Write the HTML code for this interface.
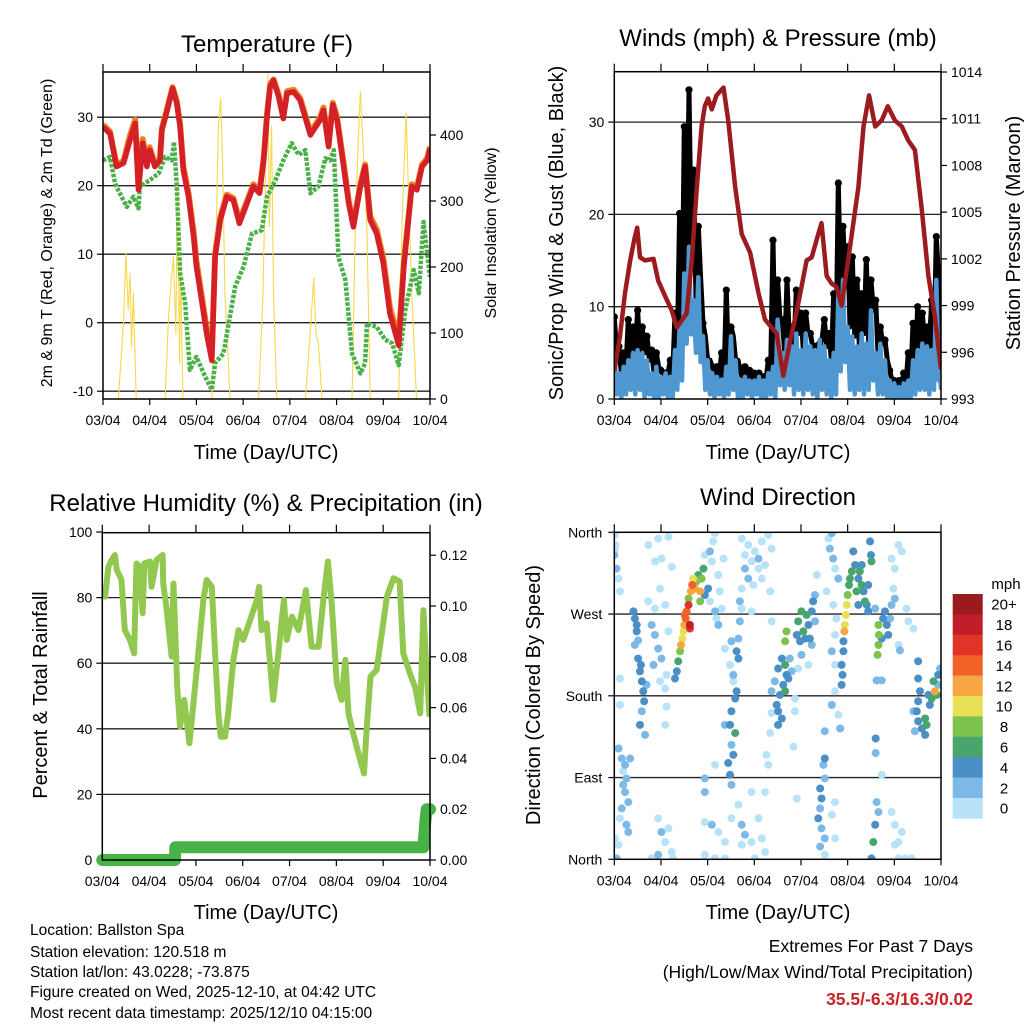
<!DOCTYPE html>
<html><head><meta charset="utf-8"><title>Station Meteogram</title>
<style>
html,body{margin:0;padding:0;background:#fff;}
svg{display:block;font-family:"Liberation Sans",Arial,sans-serif;}
</style></head>
<body>
<svg id="fig" width="1024" height="1024" viewBox="0 0 1024 1024" xmlns="http://www.w3.org/2000/svg">
<defs>
<clipPath id="c1"><rect x="103" y="72" width="327" height="327"/></clipPath>
<clipPath id="c2"><rect x="614.3" y="71.7" width="326.7" height="327.3"/></clipPath>
<clipPath id="c3"><rect x="102.3" y="532.7" width="327.7" height="327.3"/></clipPath>
<clipPath id="c4"><rect x="614.3" y="532.3" width="326.7" height="327"/></clipPath>
</defs>
<g id="axes"></g>
<g id="marks"></g>
<g id="frames"></g>

<text x="267" y="52" font-size="24" text-anchor="middle">Temperature (F)</text>
<text x="778" y="46" font-size="24" text-anchor="middle">Winds (mph) &amp; Pressure (mb)</text>
<text x="266" y="511" font-size="24" text-anchor="middle">Relative Humidity (%) &amp; Precipitation (in)</text>
<text x="778" y="505" font-size="24" text-anchor="middle">Wind Direction</text>

<text x="266" y="459" font-size="20" text-anchor="middle">Time (Day/UTC)</text>
<text x="778" y="459" font-size="20" text-anchor="middle">Time (Day/UTC)</text>
<text x="266" y="919" font-size="20" text-anchor="middle">Time (Day/UTC)</text>
<text x="778" y="919" font-size="20" text-anchor="middle">Time (Day/UTC)</text>

<text transform="translate(52,233) rotate(-90)" font-size="16" text-anchor="middle">2m &amp; 9m T (Red, Orange) &amp; 2m Td (Green)</text>
<text transform="translate(496,233) rotate(-90)" font-size="16" text-anchor="middle">Solar Insolation (Yellow)</text>
<text transform="translate(563,233) rotate(-90)" font-size="20" text-anchor="middle">Sonic/Prop Wind &amp; Gust (Blue, Black)</text>
<text transform="translate(1020,233) rotate(-90)" font-size="20" text-anchor="middle">Station Pressure (Maroon)</text>
<text transform="translate(47,695) rotate(-90)" font-size="20" text-anchor="middle">Percent &amp; Total Rainfall</text>
<text transform="translate(540,695) rotate(-90)" font-size="20" text-anchor="middle">Direction (Colored By Speed)</text>

<g font-size="15.5">
<text x="30" y="935">Location: Ballston Spa</text>
<text x="30" y="957">Station elevation: 120.518 m</text>
<text x="30" y="977">Station lat/lon: 43.0228; -73.875</text>
<text x="30" y="997">Figure created on Wed, 2025-12-10, at 04:42 UTC</text>
<text x="30" y="1018">Most recent data timestamp: 2025/12/10 04:15:00</text>
</g>
<g font-size="17.5" text-anchor="end">
<text x="973" y="952">Extremes For Past 7 Days</text>
<text x="973" y="978">(High/Low/Max Wind/Total Precipitation)</text>
<text x="973" y="1005" font-weight="bold" fill="#cc2229">35.5/-6.3/16.3/0.02</text>
</g>
<g id="cbar">
<text x="1006" y="589" font-size="15" text-anchor="middle">mph</text>
</g>
</svg>

<script>
// ---------------- DATA ----------------
var dayLabels = ["03/04","04/04","05/04","06/04","07/04","08/04","09/04","10/04"];
var tempDays = [0,0.15,0.29,0.44,0.58,0.69,0.76,0.85,0.94,1.0,1.11,1.22,1.26,1.36,1.49,1.58,1.65,1.72,1.83,1.94,2.0,2.11,2.22,2.33,2.4,2.51,2.65,2.79,2.92,3.08,3.22,3.35,3.44,3.51,3.58,3.65,3.76,3.86,3.94,4.08,4.22,4.44,4.65,4.72,4.83,4.92,5.01,5.15,5.26,5.36,5.51,5.61,5.72,5.86,6.0,6.14,6.33,6.44,6.61,6.72,6.83,6.94,7.0];
var tempRed = [28.6,27.6,22.8,23.3,26.7,29.1,19.4,26.2,22.8,25.2,22.8,23.7,28.1,30.6,34.2,32.0,28.6,22.3,18.4,12.6,8.2,3.3,-1.6,-5.5,9.6,15.0,18.4,17.9,14.5,17.4,19.9,18.9,23.7,30.1,34.5,35.4,33.0,29.8,33.5,33.7,32.5,27.4,29.6,31.0,25.7,31.8,29.6,22.8,17.4,14.0,19.9,22.8,15.0,13.0,8.7,1.4,-3.3,8.2,19.9,19.4,22.8,23.7,25.4];
var tempOrange = [28.9,27.9,23.1,23.6,27.4,29.6,19.8,26.8,23.4,25.6,23.2,24.0,28.4,30.9,34.4,32.3,28.9,22.8,18.9,13.2,9.0,4.0,-0.8,-4.8,10.0,15.4,18.7,18.2,14.9,17.7,20.2,19.3,24.0,30.4,34.8,35.5,33.3,30.2,33.8,34.0,32.8,27.8,30.0,31.4,26.0,32.1,30.0,23.3,17.8,14.4,20.2,23.1,15.5,13.6,9.4,2.3,-2.4,8.6,20.2,19.8,23.1,24.0,25.7];
var dewDays = [0,0.15,0.26,0.36,0.51,0.65,0.76,0.79,1.0,1.19,1.33,1.47,1.52,1.58,1.65,1.76,1.86,2.0,2.19,2.33,2.4,2.58,2.69,2.83,3.01,3.19,3.4,3.51,3.69,3.86,4.04,4.19,4.33,4.44,4.61,4.76,4.86,4.94,5.04,5.19,5.33,5.51,5.61,5.65,5.86,6.04,6.19,6.33,6.47,6.65,6.76,6.86,6.94,7.0];
var dewGreen = [23.7,24.2,20.3,18.9,16.9,18.4,16.7,19.9,20.8,21.8,24.2,23.7,26.4,19.9,7.2,2.8,-6.9,-5.0,-7.9,-9.8,-5.9,-4.5,-0.1,5.3,8.2,13.0,13.5,18.4,20.8,23.7,26.2,24.5,25.2,18.9,19.9,24.0,23.7,25.2,9.6,6.2,-4.5,-7.4,-5.9,-0.1,-0.6,-2.5,-3.0,-6.2,1.8,7.7,4.3,14.7,10.1,6.7];
var solarDays = [0,0.33,0.44,0.49,0.54,0.58,0.61,0.65,0.71,1.33,1.4,1.45,1.51,1.56,1.59,1.64,1.66,1.71,2.33,2.4,2.47,2.52,2.56,2.61,2.72,3.33,3.42,3.47,3.53,3.56,3.61,3.65,3.72,4.33,4.42,4.51,4.56,4.61,4.69,5.33,5.4,5.46,5.51,5.58,5.65,5.72,6.33,6.4,6.45,6.49,6.54,6.61,6.71,7.0];
var solarVals = [0,0,120,221,135,190,79,160,0,0,120,170,216,99,332,54,211,0,0,170,413,456,362,160,0,0,150,312,493,261,413,160,0,0,84,183,99,84,0,0,261,387,466,362,261,0,0,261,362,433,312,160,0,0];
var presDays = [0,0.12,0.23,0.34,0.44,0.49,0.55,0.66,0.84,0.94,1.12,1.23,1.34,1.41,1.55,1.66,1.76,1.87,1.94,2.01,2.09,2.19,2.34,2.44,2.59,2.73,2.91,3.09,3.23,3.37,3.48,3.62,3.76,3.94,4.12,4.23,4.37,4.44,4.55,4.66,4.76,4.87,5.01,5.23,5.34,5.46,5.59,5.73,5.86,6.01,6.16,6.3,6.44,6.59,6.73,6.87,7.0];
var presVals = [994.8,997.0,999.8,1001.9,1003.4,1004.0,1002.1,1001.9,1002.0,1000.6,999.4,998.7,997.6,997.9,998.5,1001.9,1006.2,1010.5,1011.8,1012.3,1011.6,1012.5,1013.0,1010.9,1006.6,1003.6,1002.4,999.8,998.1,997.6,997.2,994.5,996.6,999.1,1001.9,1002.1,1003.6,1004.3,1000.9,1000.4,1000.2,999.0,1001.9,1006.6,1010.5,1012.5,1010.5,1010.9,1011.8,1010.9,1010.5,1009.6,1009.0,1005.1,1000.9,998.3,994.9];
var windDays = [0,0.1,0.2,0.3,0.4,0.5,0.6,0.7,0.8,0.9,1.0,1.1,1.2,1.3,1.4,1.5,1.6,1.7,1.8,1.9,2.0,2.1,2.2,2.3,2.4,2.5,2.6,2.7,2.8,2.9,3.0,3.1,3.2,3.3,3.4,3.5,3.6,3.7,3.8,3.9,4.0,4.1,4.2,4.3,4.4,4.5,4.6,4.7,4.8,4.9,5.0,5.1,5.2,5.3,5.4,5.5,5.6,5.7,5.8,5.9,6.0,6.1,6.2,6.3,6.4,6.5,6.6,6.7,6.8,6.9,6.95];
var windHi = [5,2.8,3.5,4.2,5,5.3,5,4.2,2.8,3.5,2.4,2.8,2.4,5.3,7.8,13.6,16.5,10.7,13.2,6.8,4.2,2.8,2.4,2.1,3.5,6.8,4.2,2.1,2.4,2,2,2.4,2,2.8,3.5,8.6,5,6.4,5.7,7.1,5.3,7.1,5.7,5.3,6.4,5.7,4.2,5,11.4,12.9,7.8,6.8,5.7,7.1,6,9.6,5,6,4.2,2,1.7,1.3,1.7,2,4.2,5.3,6,5.7,5.3,12.9,5.3];
var windLo = [0.5,0,0.5,1,0.5,1,0,0.5,0,0,0.5,0,0,1,2,6,7,5,4,1,0.5,0,0.5,0,0.5,1,0,0,0.5,0,0.5,0,0,0.5,0,1.5,1,1.5,0.5,1,0.5,1,0.5,0,1,0.5,0,0.5,3,4,1,0.5,1,0.5,1,2,0.5,0.5,0,0,0,0,0,0,0.5,1,1,0.5,1,2,1];
var gustHi = [8.9,5.7,5,8.6,7.8,9.6,7.8,6.8,5.3,5,3.1,2.8,4.2,9.3,20.1,29.5,33.5,24.8,18.7,8.2,4.2,3.5,3.5,5,11.8,7.8,4.2,3.1,3.5,3.1,2.8,2.8,2.4,4.2,17.2,12.9,8.6,12.9,7.8,11.8,9.3,9.3,7.1,5.7,6,8.6,7.1,11.4,23.4,18.7,16.5,15.4,12.9,11.4,15.1,12.9,10.7,7.8,6.4,3.1,2,2,2.8,5,8.2,10,9.3,7.8,10.7,17.6,7.1];
var rhDays = [0,0.06,0.13,0.2,0.27,0.31,0.41,0.48,0.59,0.68,0.73,0.8,0.86,0.9,1.02,1.05,1.16,1.29,1.3,1.37,1.48,1.52,1.6,1.66,1.75,1.8,1.86,1.94,2.05,2.16,2.23,2.34,2.41,2.48,2.53,2.62,2.69,2.8,2.91,3.01,3.16,3.3,3.35,3.4,3.51,3.65,3.76,3.88,3.94,4.05,4.19,4.35,4.47,4.62,4.72,4.82,4.9,5.01,5.11,5.19,5.26,5.36,5.51,5.59,5.65,5.73,5.86,5.97,6.08,6.22,6.35,6.43,6.57,6.68,6.79,6.86,6.92,6.99];
var rhVals = [83.3,80.3,89.4,91.5,93,88.4,85.4,70.1,67.1,63,90.4,89.4,75.2,90.4,91,83.3,91.5,93,84.3,77.2,62,84.3,52.8,40.7,48.8,42.7,35.6,46.7,63,79.3,85.4,83.3,63,44.7,37.6,37.6,44.7,61,70.1,67.1,73.2,79.3,83.3,70.1,72.2,48.8,63,79.3,67.1,74.2,70.1,82.3,65,65,79.3,91,78.3,53.9,48.8,61,44.7,38.6,30.5,26.4,40.7,55.9,57.9,69.1,80.3,85.9,84.9,63,56.9,52.8,44.7,76.2,58.9,43.7];
var precDays = [0,1.55,1.56,6.86,6.88,6.9,6.93,7.0];
var precVals = [0,0,0.005,0.005,0.01,0.015,0.02,0.02];
var dirPoints = [
[0.01,357,1],[0.03,346,1],[0,335,3],[0.05,320,3],[0.09,309,1],[0.12,295,1],[0.01,341,1],
[0.09,122,3],[0.16,111,3],[0.23,104,3],[0.26,89,3],[0.19,82,3],[0.23,74,3],[0.3,63,3],[0.16,56,3],[0.12,45,1],[0.26,38,3],[0.3,30,3],[0.09,16,1],[0.05,1,3],[0.01,23,1],[0.34,111,3],[0.19,97,1],
[0.41,273,5],[0.44,265,5],[0.48,251,5],[0.44,236,3],[0.51,221,5],[0.55,207,5],[0.59,196,5],[0.62,185,5],[0.64,174,5],[0.59,163,3],[0.55,148,5],[0.66,137,3],[0.48,258,5],[0.51,241,3],[0.69,192,3],[0.57,214,5],
[0.73,346,1],[0.94,353,1],[1.16,355,1],[0.87,328,1],[1.01,331,1],[1.23,322,1],[0.98,298,1],[1.09,280,1],[0.8,258,3],[0.87,247,3],[0.94,232,3],[0.84,214,3],[1.01,221,3],[1.12,203,1],[0.98,196,1],[1.09,188,1],[1.16,251,1],[0.87,276,1],[0.73,284,1],[1.12,168,1],[1.09,148,1],[0.12,199,1],[0.12,170,1],
[0.94,45,1],[1.01,30,3],[1.09,19,1],[1.23,8,1],[0.94,5,3],[0.8,1,1],[1.16,34,1],[1.26,1,1],
[1.3,199,5],[1.34,207,5],[1.37,218,7],[1.41,229,9],[1.43,236,13],[1.46,243,11],[1.48,251,11],[1.5,258,13],[1.53,265,15],[1.55,273,15],[1.59,280,17],[1.62,258,19],[1.59,287,9],[1.64,295,13],[1.67,302,15],[1.69,309,11],[1.73,298,13],[1.76,306,9],[1.8,313,7],[1.84,295,13],[1.87,309,9],[1.91,320,7],[1.84,284,9],[1.94,291,5],[2.01,298,5],[1.51,269,15],[1.62,254,17],
[1.94,335,1],[2.09,328,1],[2.16,359,1],[2.23,313,1],[2.26,295,1],[2.3,276,1],[2.05,284,1],[2.12,350,1],[2.34,331,1],[2.19,265,1],[2.23,258,3],[2.05,339,3],[2.16,273,3],
[2.51,240,3],[2.62,229,5],[2.66,221,5],[2.55,203,3],[2.62,185,5],[2.59,177,5],[2.51,163,5],[2.48,148,5],[2.59,139,7],[2.51,126,3],[2.55,115,5],[2.44,106,5],[2.48,93,5],[2.51,82,3],[2.66,243,3],[2.69,262,3],[2.37,232,1],[2.48,214,1],[2.55,196,1],[2.37,148,3],
[2.73,353,1],[2.87,346,1],[3.01,339,1],[3.16,350,1],[3.3,357,1],[2.94,328,1],[3.09,320,1],[2.8,320,3],[3.23,324,1],[3.37,342,1],[3.16,309,1],[2.87,309,3],[2.98,302,1],[2.8,335,1],[3.09,331,3],[3.34,295,1],[2.73,298,1],[2.69,284,3],[2.73,276,1],[2.94,273,1],[3.37,262,1],
[1.94,89,3],[1.94,74,3],[2.16,104,1],[1.94,41,1],[2.09,38,3],[2.23,30,1],[2.37,19,1],[2.51,45,1],[2.66,60,1],[2.73,38,3],[2.8,27,3],[2.94,19,1],[3.09,45,1],[3.16,23,1],[3.23,8,1],[3.01,1,1],[2.73,16,1],[2.94,74,1],[3.23,74,1],[3.3,104,1],[3.26,115,1],[1.94,5,1],[2.16,1,1],[2.37,1,1],
[3.51,210,5],[3.59,221,5],[3.66,214,7],[3.69,203,5],[3.66,240,9],[3.69,251,9],[3.62,192,5],[3.55,181,5],[3.48,170,5],[3.51,163,5],[3.59,155,5],[3.51,148,5],[3.66,185,7],[3.73,199,5],[3.8,207,3],[3.44,196,3],[3.76,221,3],[3.37,185,3],[3.87,177,1],[3.87,163,1],[3.37,161,1],[3.34,139,1],[3.84,124,1],
[3.94,262,7],[4.01,273,7],[4.05,251,7],[4.09,243,5],[4.16,258,5],[4.23,273,5],[4.26,284,5],[4.3,291,3],[4.19,243,5],[3.98,240,5],[4.12,269,7],[3.91,247,5],[4.3,262,3],[4.01,225,3],[4.16,214,1],[3.94,210,1],[4.23,236,3],
[4.34,313,1],[4.59,353,1],[4.66,359,3],[4.62,342,3],[4.69,331,3],[4.73,320,1],[4.8,309,3],[4.55,295,1],[4.69,280,1],[4.76,265,1],[4.73,247,1],[4.66,229,3],[4.73,214,1],[4.73,185,1],[4.66,170,3],[4.8,159,1],[4.84,144,3],[4.51,141,3],
[4.51,111,5],[4.48,104,3],[4.51,89,3],[4.41,78,5],[4.44,67,5],[4.41,56,3],[4.37,45,5],[4.44,34,3],[4.51,23,3],[4.41,14,3],[4.51,5,1],[4.66,49,1],[4.73,63,1],[4.73,23,1],[3.91,67,1],
[4.87,192,5],[4.89,203,5],[4.87,214,5],[4.91,229,5],[4.91,240,5],[4.93,251,13],[4.94,258,11],[4.96,269,11],[4.98,280,11],[5.0,291,9],[5.03,302,7],[5.05,309,7],[5.09,317,7],
[5.12,339,5],[5.16,324,5],[5.23,309,5],[5.26,317,7],[5.3,302,7],[5.34,295,5],[5.37,284,7],[5.44,302,5],[5.48,350,5],[5.5,335,5],[5.51,328,7],[5.41,280,5],[5.44,273,5],[5.23,280,5],[5.3,324,5],[5.19,295,7],
[5.66,258,9],[5.67,247,9],[5.66,236,9],[5.64,225,9],[5.76,265,5],[5.84,258,5],[5.87,247,5],[5.8,273,5],[5.73,243,5],[5.91,265,3],[5.94,280,3],[5.62,197,3],[5.73,197,3],[5.59,276,3],
[5.94,331,1],[6.01,320,1],[6.09,346,1],[6.16,339,1],[5.98,298,1],[6.01,287,3],[6.26,276,1],[6.3,262,1],[6.41,254,1],[6.09,236,1],[6.12,230,3],
[5.6,133,5],[5.6,117,3],[5.73,93,1],[5.62,63,3],[5.66,52,3],[5.59,38,5],[5.55,19,7],[5.51,1,5],[5.94,52,1],[6.01,38,1],[6.09,19,1],[6.09,1,1],[6.23,1,1],[6.37,1,1],[6.16,30,1],[6.01,16,1],
[6.51,199,5],[6.55,185,5],[6.51,174,5],[6.48,163,5],[6.51,152,5],[6.59,144,5],[6.66,155,7],[6.69,148,7],[6.76,170,5],[6.8,177,7],[6.84,196,7],[6.87,185,13],[6.91,181,7],[6.94,203,5],[6.98,210,3],[6.66,137,5],[6.44,141,3],[6.41,163,3],[6.51,218,5],[6.73,181,5],[6.94,192,3]
];
var speedBinLabels = ["0","2","4","6","8","10","12","14","16","18","20+"];
var speedColors = ["#b8e2f8","#7cb9e6","#4a8fc6","#48a66c","#7cc24c","#e8e055","#f8a641","#f26128","#e03428","#c01e28","#9a1a1e"];
var tempTicks = [-10,0,10,20,30];
var solarTicks = [0,100,200,300,400];
var windTicks = [0,10,20,30];
var presTicks = [993,996,999,1002,1005,1008,1011,1014];
var rhTicks = [0,20,40,60,80,100];
var precTicks = [0,0.02,0.04,0.06,0.08,0.10,0.12];
var dirTicks = [0,90,180,270,360];
var dirTickLabels = ["North","East","South","West","North"];

(function(){
var NS = "http://www.w3.org/2000/svg";
function mk(tag, attrs, parent){var e=document.createElementNS(NS,tag);for(var k in attrs){e.setAttribute(k,attrs[k]);}(parent||document.getElementById('marks')).appendChild(e);return e;}
function xs(x0,x1){return function(d){return x0+(x1-x0)*d/7;};}
var x1s=xs(103,430), x2s=xs(614.3,941), x3s=xs(102.3,430), x4s=xs(614.3,941);
function yTemp(t){return 322.7-6.85*t;}
function ySol(w){return 399-0.66*w;}
function yWind(m){return 399-9.23*m;}
function yPres(p){return 399-15.57*(p-993);}
function yRH(r){return 860-3.28*r;}
function yPrec(v){return 860-2540*v;}
function yDir(d){return 859.3-0.9083*d;}

var axes=document.getElementById('axes'), frames=document.getElementById('frames'), cb=document.getElementById('cbar');
var panels=[
 {x0:103,y0:72,x1:430,y1:399,xs:x1s,name:'temp'},
 {x0:614.3,y0:71.7,x1:941,y1:399,xs:x2s,name:'winds'},
 {x0:102.3,y0:532.7,x1:430,y1:860,xs:x3s,name:'rh'},
 {x0:614.3,y0:532.3,x1:941,y1:859.3,xs:x4s,name:'dir'}
];
function grid(p,ys,vals){vals.forEach(function(v){var y=ys(v);if(y>p.y0+1&&y<p.y1-1){var g=mk('line',{x1:p.x0,x2:p.x1,y1:y,y2:y,stroke:'#222','stroke-width':1.3},axes);

}});}
function leftLabels(p,ys,vals,labels,dx){vals.forEach(function(v,i){var y=ys(v);var tk=mk('line',{x1:p.x0-6,x2:p.x0,y1:y,y2:y,stroke:'#000','stroke-width':1.2},axes);


var t=mk('text',{x:p.x0-(dx||10),y:y+5,'font-size':14,'text-anchor':'end'},axes);t.textContent=labels?labels[i]:String(v);

});}
function rightLabels(p,ys,vals,labels){vals.forEach(function(v,i){var y=ys(v);var tk=mk('line',{x1:p.x1,x2:p.x1+6,y1:y,y2:y,stroke:'#000','stroke-width':1.2},axes);


var t=mk('text',{x:p.x1+10,y:y+5,'font-size':14},axes);t.textContent=labels?labels[i]:String(v);

});}
panels.forEach(function(p){
  dayLabels.forEach(function(l,i){var x=p.xs(i);
    var a=mk('line',{x1:x,x2:x,y1:p.y1,y2:p.y1+6,stroke:'#000','stroke-width':1.2},axes);
    
    
    var b=mk('line',{x1:x,x2:x,y1:p.y0-8,y2:p.y0,stroke:'#000','stroke-width':1.2},axes);
    
    
    var t=mk('text',{x:x,y:p.y1+26,'font-size':14,'text-anchor':'middle'},axes);t.textContent=l;
    
    });
  var f=mk('rect',{x:p.x0,y:p.y0,width:p.x1-p.x0,height:p.y1-p.y0,fill:'none',stroke:'#000','stroke-width':1.5},frames);
  
  
});
grid(panels[0],yTemp,tempTicks); leftLabels(panels[0],yTemp,tempTicks); rightLabels(panels[0],ySol,solarTicks);
grid(panels[1],yWind,windTicks); leftLabels(panels[1],yWind,windTicks); rightLabels(panels[1],yPres,presTicks);
grid(panels[2],yRH,rhTicks); leftLabels(panels[2],yRH,rhTicks); rightLabels(panels[2],yPrec,precTicks,precTicks.map(function(v){return v.toFixed(2);}));
grid(panels[3],yDir,dirTicks); leftLabels(panels[3],yDir,dirTicks,dirTickLabels,12);

function pts(days,vals,xf,yf){return days.map(function(d,i){return xf(d).toFixed(1)+','+yf(vals[i]).toFixed(1);}).join(' ');}
var g1=mk('g',{'clip-path':'url(#c1)'});


var g2=mk('g',{'clip-path':'url(#c2)'});


var g3=mk('g',{'clip-path':'url(#c3)'});


var g3b=mk('g',{});


var g4=mk('g',{'clip-path':'url(#c4)'});



var sol=mk('polyline',{points:pts(solarDays,solarVals,x1s,ySol),fill:'none',stroke:'#f6d84a','stroke-width':1.1,'stroke-linejoin':'round'},g1);


var dew=mk('polyline',{points:pts(dewDays,dewGreen,x1s,yTemp),fill:'none',stroke:'#4bb04a','stroke-width':4.5,'stroke-dasharray':'3.5 1.5','stroke-linejoin':'round'},g1);


var oT=mk('polyline',{points:pts(tempDays,tempOrange,x1s,yTemp),fill:'none',stroke:'#f07f25','stroke-width':6,'stroke-linejoin':'round'},g1);


var rT=mk('polyline',{points:pts(tempDays,tempRed,x1s,yTemp),fill:'none',stroke:'#d42027','stroke-width':5.5,'stroke-linejoin':'round'},g1);



var gz=[];windDays.forEach(function(d,i){gz.push(x2s(d).toFixed(1)+','+yWind(gustHi[i]).toFixed(1));gz.push(x2s(d+0.05).toFixed(1)+','+yWind(windHi[i]).toFixed(1));});
var gl=mk('polyline',{points:gz.join(' '),fill:'none',stroke:'#000','stroke-width':5,'stroke-linejoin':'round'},g2);


windDays.forEach(function(d,i){var c=mk('circle',{cx:x2s(d),cy:yWind(gustHi[i]),r:3.6,fill:'#000'},g2);

});
var bz=[];windDays.forEach(function(d,i){bz.push(x2s(d).toFixed(1)+','+yWind(windHi[i]).toFixed(1));bz.push(x2s(d+0.05).toFixed(1)+','+yWind(windLo[i]).toFixed(1));});
var bl=mk('polyline',{points:bz.join(' '),fill:'none',stroke:'#4f97d0','stroke-width':4.5,'stroke-linejoin':'round'},g2);


var pl=mk('polyline',{points:pts(presDays,presVals,x2s,yPres),fill:'none',stroke:'#9b1b1f','stroke-width':4.5,'stroke-linejoin':'round'},g2);



var rl=mk('polyline',{points:pts(rhDays,rhVals,x3s,yRH),fill:'none',stroke:'#92c850','stroke-width':6,'stroke-linejoin':'round'},g3);


var prl=mk('polyline',{points:pts(precDays,precVals,x3s,yPrec),fill:'none',stroke:'#47b347','stroke-width':12,'stroke-linejoin':'round','stroke-linecap':'round'},g3b);



function binOf(s){return Math.min(10,Math.max(0,Math.floor(s/2)));}
var sorted=dirPoints.slice().sort(function(a,b){return a[2]-b[2];});
sorted.forEach(function(p){var c=mk('circle',{cx:x4s(p[0]),cy:yDir(p[1]),r:4,fill:speedColors[binOf(p[2])]},g4);

});

var bh=20.4, cbTop=594;
for(var i=0;i<speedColors.length;i++){var k=speedColors.length-1-i;
 var r=mk('rect',{x:952.7,y:cbTop+i*bh,width:30,height:bh+0.3,fill:speedColors[k]},cb);
 
 
 var t=mk('text',{x:1004,y:cbTop+i*bh+bh/2+5.5,'font-size':15,'text-anchor':'middle'},cb);t.textContent=speedBinLabels[k];
 
 }
})();
</script>
</body></html>
